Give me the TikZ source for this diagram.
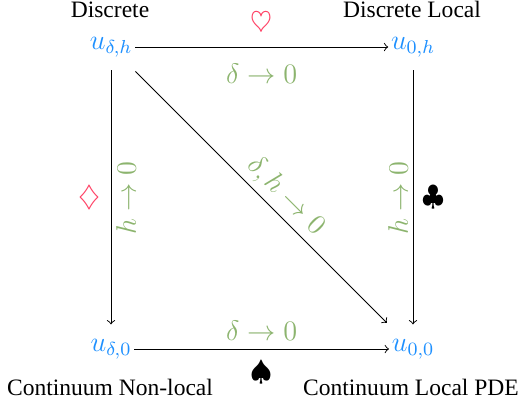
\documentclass[tikz,border=0pt]{standalone}
\usepackage{fontspec}
\setmainfont{Liberation Serif}
\definecolor{ublue}{RGB}{30,144,255}
\definecolor{lgreen}{RGB}{140,180,110}
\definecolor{sred}{RGB}{255,64,100}
\begin{document}
\begin{tikzpicture}[x=0.425pt,y=-0.425pt,
  txt/.style={font=\fontsize{10}{12}\selectfont, anchor=base, inner sep=0pt},
  un/.style={font=\fontsize{12}{14}\selectfont, text=ublue, inner sep=1pt},
  lbl/.style={font=\fontsize{12}{14}\selectfont, text=lgreen, inner sep=2pt},
  suit/.style={font=\fontsize{12}{14}\selectfont, inner sep=2pt},
  arr/.style={->, line width=0.4pt},
  vshort/.style={shorten <=4.5pt, shorten >=5pt},
  dshort/.style={shorten <=7pt, shorten >=8pt}]
\useasboundingbox (0,0) rectangle (524,406);
\node[txt] (t1) at (110,17) {Discrete};
\node[txt] (t2) at (412,17) {Discrete Local};
\node[txt] (t3) at (110,395) {Continuum Non-local};
\node[txt] (t4) at (411,395) {Continuum Local PDE};
\node[un] (a) at (111,47) {$u_{\delta,h}$};
\node[un] (b) at (413,47) {$u_{0,h}$};
\node[un] (c) at (111,349) {$u_{\delta,0}$};
\node[un] (d) at (413,349) {$u_{0,0}$};
\draw[arr] (a) -- (b)
  node[midway, lbl, below=4.8pt] (l1) {$\delta\to 0$}
  node[midway, suit, text=sred, above=2.9pt] (s1) {$\heartsuit$};
\draw[arr] (c) -- (d)
  node[midway, lbl, above=1.4pt] (l2) {$\delta\to 0$}
  node[midway, suit, below=3pt] (s2) {$\spadesuit$};
\draw[arr, vshort] (a) -- (c)
  node[midway, lbl, rotate=90, anchor=north, xshift=0pt] (l3) {$h\to 0$}
  node[midway, suit, text=sred, left=2.4pt] (s3) {$\diamondsuit$};
\draw[arr, vshort] (b) -- (d)
  node[midway, lbl, rotate=90, anchor=south] (l4) {$h\to 0$}
  node[midway, suit, right=2pt] (s4) {$\clubsuit$};
\draw[arr, dshort] (a) -- (d)
  node[pos=0.54, lbl, sloped, above] (l5) {$\delta,h\to 0$};
\end{tikzpicture}
\end{document}
